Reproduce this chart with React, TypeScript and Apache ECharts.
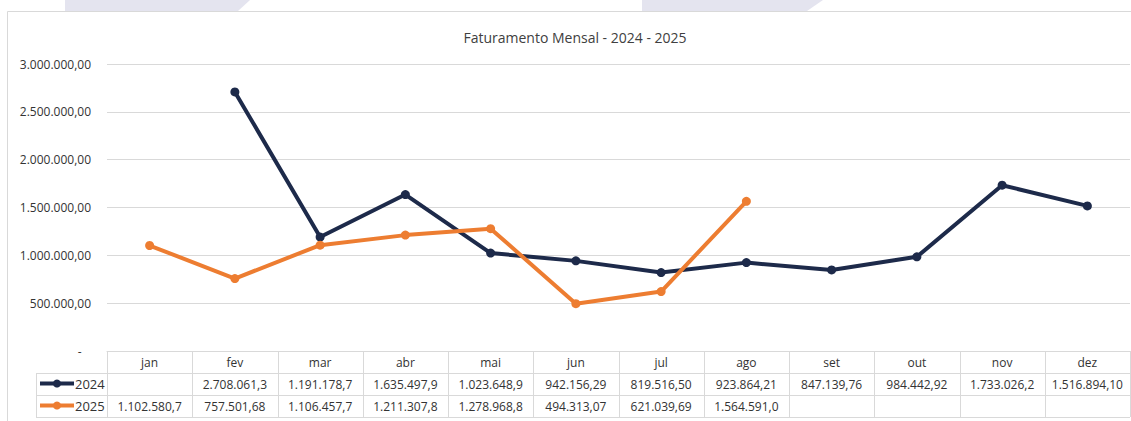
import React, { useEffect, useRef } from "react";
import * as echarts from "echarts";

const months = ["jan", "fev", "mar", "abr", "mai", "jun", "jul", "ago", "set", "out", "nov", "dez"];
const seriesNames = ["2024", "2025"];
const values2024: (number | null)[] = [null, 2708061.3, 1191178.7, 1635497.9, 1023648.9, 942156.29, 819516.5, 923864.21, 847139.76, 984442.92, 1733026.2, 1516894.1];
const values2025: (number | null)[] = [1102580.7, 757501.68, 1106457.7, 1211307.8, 1278968.8, 494313.07, 621039.69, 1564591.0, null, null, null, null];
const yTicks = { min: 0, max: 3000000, interval: 500000 };
const title = "Faturamento Mensal - 2024 - 2025";

const NAVY = "#1d2a4a";
const ORANGE = "#ed7d31";
const GRIDC = "#d9d9d9";
const TEXTC = "#333333";
const FONT = "'Open Sans', 'Noto Sans', sans-serif";

function fmtBR(v: number): string {
  const fixed = v.toFixed(2);
  const [intPart, dec] = fixed.split(".");
  const withDots = intPart.replace(/\B(?=(\d{3})+(?!\d))/g, ".");
  return withDots + "," + dec;
}

function cell(v: number | null, idx: number): string {
  if (v == null) return " ";
  let s = fmtBR(v);
  if (idx < months.length - 1 && s.length > 11) s = s.slice(0, 11);
  return s;
}

// layout
const GRID_LEFT = 107;
const GRID_RIGHT_X = 1130;
const GRID_TOP = 64;
const GRID_BOTTOM_Y = 351;
const ROW_H = 22;
const LEGEND_X = 36;

export default function App() {
  const ref = useRef<HTMLDivElement>(null);
  useEffect(() => {
    if (!ref.current) return;
    const chart = echarts.init(ref.current, undefined, { renderer: "svg" });
    const colW = (GRID_RIGHT_X - GRID_LEFT) / months.length;
    const tableBottom = GRID_BOTTOM_Y + ROW_H * 3;
    const lines: any[] = [];
    const ls = { stroke: GRIDC, lineWidth: 1 };
    lines.push({ type: "line", shape: { x1: LEGEND_X, y1: GRID_BOTTOM_Y + ROW_H + 0.5, x2: GRID_RIGHT_X, y2: GRID_BOTTOM_Y + ROW_H + 0.5 }, style: ls });
    lines.push({ type: "line", shape: { x1: LEGEND_X, y1: GRID_BOTTOM_Y + 2 * ROW_H + 0.5, x2: GRID_RIGHT_X, y2: GRID_BOTTOM_Y + 2 * ROW_H + 0.5 }, style: ls });
    lines.push({ type: "line", shape: { x1: LEGEND_X, y1: tableBottom + 0.5, x2: GRID_RIGHT_X, y2: tableBottom + 0.5 }, style: ls });
    for (let i = 0; i <= months.length; i++) {
      const x = Math.round(GRID_LEFT + i * colW) + 0.5;
      lines.push({ type: "line", shape: { x1: x, y1: GRID_BOTTOM_Y, x2: x, y2: tableBottom }, style: ls });
    }
    lines.push({ type: "line", shape: { x1: LEGEND_X + 0.5, y1: GRID_BOTTOM_Y + ROW_H, x2: LEGEND_X + 0.5, y2: tableBottom }, style: ls });

    const legendBase = {
      orient: "horizontal",
      left: LEGEND_X + 2,
      itemWidth: 34,
      itemHeight: 10,
      padding: 0,
      lineStyle: { width: 4 },
      textStyle: { fontFamily: FONT, fontSize: 13, color: TEXTC, padding: [0, 0, 0, -4] },
    };

    chart.setOption({
      animation: false,
      backgroundColor: "#ffffff",
      title: {
        text: title,
        left: 570,
        textAlign: "center",
        top: 25,
        textStyle: { fontFamily: FONT, fontSize: 14, fontWeight: "normal", color: "#404040" },
      },
      legend: [
        { ...legendBase, data: [seriesNames[0]], top: GRID_BOTTOM_Y + ROW_H + 4 },
        { ...legendBase, data: [seriesNames[1]], top: GRID_BOTTOM_Y + 2 * ROW_H + 4 },
      ],
      grid: { left: GRID_LEFT, top: GRID_TOP, width: GRID_RIGHT_X - GRID_LEFT, height: GRID_BOTTOM_Y - GRID_TOP },
      xAxis: {
        type: "category",
        data: months,
        boundaryGap: true,
        axisLine: { show: true, lineStyle: { color: GRIDC } },
        axisTick: { show: false },
        axisLabel: {
          interval: 0,
          margin: 0,
          fontFamily: FONT,
          fontSize: 12,
          color: TEXTC,
          lineHeight: ROW_H,
          formatter: (v: string, i: number) => `${v}\n${cell(values2024[i], i)}\n${cell(values2025[i], i)}`,
        },
      },
      yAxis: {
        type: "value",
        min: yTicks.min,
        max: yTicks.max,
        interval: yTicks.interval,
        axisLine: { show: false },
        axisTick: { show: false },
        splitLine: { lineStyle: { color: GRIDC } },
        axisLabel: {
          margin: 16,
          fontFamily: FONT,
          fontSize: 12,
          color: TEXTC,
          formatter: (v: number) => (v === 0 ? "-   " : fmtBR(v)),
        },
      },
      graphic: [
        { type: "polygon", shape: { points: [[65, 0], [250, 0], [238, 11], [65, 11]] }, style: { fill: "#e4e4ef" }, silent: true },
        { type: "polygon", shape: { points: [[642, 0], [823, 0], [807, 11], [642, 11]] }, style: { fill: "#e4e4ef" }, silent: true },
        { type: "rect", shape: { x: 7.5, y: 11.5, width: 1130, height: 420 }, style: { fill: "none", stroke: GRIDC, lineWidth: 1 }, silent: true },
        ...lines,
      ],
      series: [
        {
          name: seriesNames[0],
          type: "line",
          data: values2024,
          symbol: "circle",
          symbolSize: 9,
          lineStyle: { color: NAVY, width: 4 },
          itemStyle: { color: NAVY },
        },
        {
          name: seriesNames[1],
          type: "line",
          data: values2025,
          symbol: "circle",
          symbolSize: 9,
          lineStyle: { color: ORANGE, width: 4 },
          itemStyle: { color: ORANGE },
        },
      ],
    });
    return () => chart.dispose();
  }, []);
  return <div ref={ref} style={{ position: "absolute", left: 0, top: 0, width: 1131, height: 421 }} />;
}
